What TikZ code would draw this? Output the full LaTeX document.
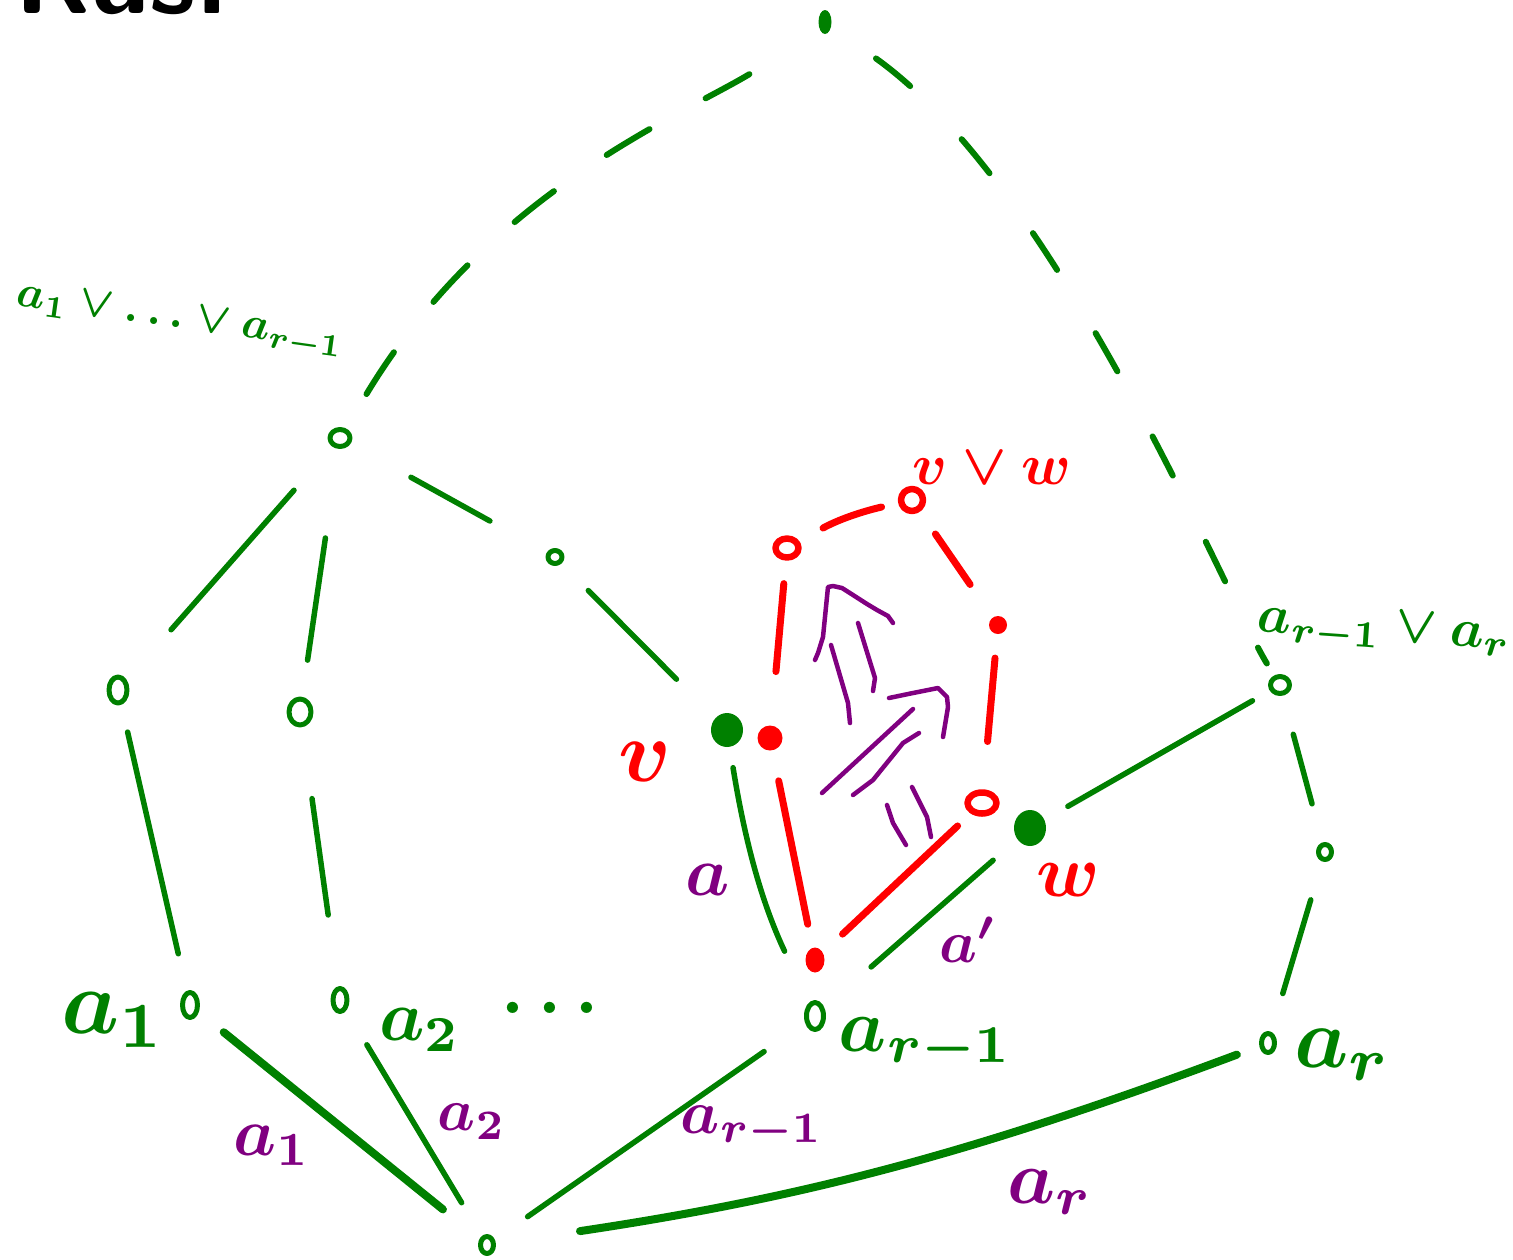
\documentclass[tikz,border=0pt]{standalone}
\usetikzlibrary{shapes.geometric}
\definecolor{hgreen}{RGB}{0,128,0}
\definecolor{hred}{RGB}{255,0,0}
\definecolor{hpurple}{RGB}{128,0,128}
\begin{document}
\begin{tikzpicture}[x=1pt,y=-1pt,line cap=round,line join=round,
  gedge/.style={hgreen,line width=5.5pt},
  gthick/.style={hgreen,line width=8pt},
  gdashA/.style={hgreen,line width=6pt,dash pattern=on 50pt off 64pt},
  gdashB/.style={hgreen,line width=6pt,dash pattern=on 44pt off 74pt},
  redge/.style={hred,line width=7pt},
  pline/.style={hpurple,line width=4.5pt},
  gopen/.style={ellipse,draw=hgreen,line width=5pt,inner sep=0pt},
  gfill/.style={ellipse,fill=hgreen,inner sep=0pt},
  ropen/.style={ellipse,draw=hred,line width=6.5pt,inner sep=0pt},
  rfill/.style={ellipse,fill=hred,inner sep=0pt},
  glab/.style={text=hgreen,inner sep=0pt,font=\boldmath},
  rlab/.style={text=hred,inner sep=0pt,font=\boldmath},
  plab/.style={text=hpurple,inner sep=0pt,font=\boldmath},
  fs/.style={scale=#1/10}
]
\useasboundingbox (0,0) rectangle (1513,1259);

% title (cut off at the top)
\node[anchor=base west,inner sep=0pt,font=\sffamily\bfseries,scale=11] (title) at (12,13) {Ras:};

% green nodes
\node[gfill,minimum width=13pt,minimum height=24pt] (top) at (825,22) {};
\node[gopen,minimum width=20pt,minimum height=17pt] (A) at (340,438) {};
\node[gopen,minimum width=18pt,minimum height=26pt] (L1) at (118,690) {};
\node[gopen,minimum width=22pt,minimum height=26pt] (L2) at (300,712) {};
\node[gopen,minimum width=14pt,minimum height=13pt] (M) at (555,557) {};
\node[gfill,minimum width=32pt,minimum height=34pt] (gv) at (727,730) {};
\node[gfill,minimum width=32pt,minimum height=36pt] (gw) at (1030,828) {};
\node[gopen,minimum width=19pt,minimum height=17pt] (R) at (1280,685) {};
\node[gopen,minimum width=13pt,minimum height=15pt] (Rm) at (1325,852) {};
\node[gopen,minimum width=15pt,minimum height=25pt] (a1n) at (190,1005) {};
\node[gopen,minimum width=14pt,minimum height=23pt] (a2n) at (340,1000) {};
\node[gopen,minimum width=17pt,minimum height=27pt] (arm) at (815,1016) {};
\node[gopen,minimum width=13pt,minimum height=19pt] (arn) at (1268,1043) {};
\node[gopen,minimum width=13pt,minimum height=17pt] (bot) at (487,1245) {};

% red nodes
\node[ropen,minimum width=23pt,minimum height=19pt] (rtl) at (787,548) {};
\node[ropen,minimum width=22pt,minimum height=22pt] (rvw) at (912,500) {};
\node[rfill,minimum width=18pt,minimum height=18pt] (rr) at (998,625) {};
\node[ropen,minimum width=29pt,minimum height=21pt] (rw) at (982,803) {};
\node[rfill,minimum width=25pt,minimum height=25pt] (rv) at (770,738) {};
\node[rfill,minimum width=19pt,minimum height=25pt] (rb) at (815,960) {};

% dashed green edges
\draw[gdashA,shorten <=40pt,shorten >=70pt] (A) .. controls +(155,-257) and +(-123,86) .. (top);
\draw[gdashB,shorten <=55pt,shorten >=14pt] (top) .. controls +(235,168) and +(-55,-90) .. (R);

% solid green edges
\draw[gedge,shorten <=58pt,shorten >=67pt] (A) -- (L1);
\draw[gedge,shorten <=90pt,shorten >=37pt] (A) -- (L2);
\draw[gedge,shorten <=69pt,shorten >=65pt] (A) -- (M);
\draw[gedge,shorten <=38pt,shorten >=55pt] (M) -- (gv);
\draw[gedge,shorten <=28pt,shorten >=38pt] (L1) -- (a1n);
\draw[gedge,shorten <=72pt,shorten >=72pt] (L2) -- (a2n);
\draw[gedge,shorten <=21pt,shorten >=57pt] (gv) to[bend right=8] (arm);
\draw[gedge,shorten <=32pt,shorten >=62pt] (gw) -- (arm);
\draw[gedge,shorten <=27pt,shorten >=20pt] (gw) -- (R);
\draw[gedge,shorten <=40pt,shorten >=40pt] (R) -- (Rm);
\draw[gedge,shorten <=40pt,shorten >=40pt] (Rm) -- (arn);
\draw[gthick,shorten <=47pt,shorten >=32pt] (bot) -- (a1n);
\draw[gedge,shorten <=39pt,shorten >=40pt] (bot) -- (a2n);
\draw[gedge,shorten <=40pt,shorten >=50pt] (bot) -- (arm);
\draw[gthick,shorten <=85pt,shorten >=24pt] (bot) to[bend right=6] (arn);

% red edges
\draw[redge,shorten <=31pt,shorten >=24pt] (rv) -- (rb);
\draw[redge,shorten <=27pt,shorten >=18pt] (rb) -- (rw);
\draw[redge,shorten <=54pt,shorten >=23pt] (rv) -- (rtl);
\draw[redge,shorten <=27pt,shorten >=17pt] (rtl) to[bend left=8] (rvw);
\draw[redge,shorten <=27pt,shorten >=40pt] (rvw) -- (rr);
\draw[redge,shorten <=24pt,shorten >=48pt] (rr) -- (rw);

% purple 2-cells
\draw[pline] (815,660) -- (818,653) -- (823,637) -- (828,587) -- (833,586) -- (842,588) -- (853,595) -- (867,604) -- (877,610) -- (888,616) -- (893,623);
\draw[pline] (831,645) -- (848,703) -- (850,723);
\draw[pline] (858,623) -- (875,678) -- (873,691);
\draw[pline] (889,698) -- (913,693) -- (938,688) -- (947,697) -- (948,707) -- (943,737);
\draw[pline] (822,793) -- (913,709);
\draw[pline] (853,795) -- (873,780) -- (903,743) -- (919,733);
\draw[pline] (887,805) -- (893,823) -- (906,845);
\draw[pline] (912,787) -- (927,817) -- (931,837);

% green labels
\node[glab,fs=45,rotate=-8] (lA) at (180,322) {$a_1\vee\ldots\vee a_{r-1}$};
\node[glab,fs=54,rotate=-4] (lR) at (1384,633) {$a_{r-1}\vee a_r$};
\node[glab,fs=92] (la1) at (114,1020) {$a_1$};
\node[glab,fs=72] (la2) at (420,1030) {$a_2$};
\node[glab,fs=72] (ldots) at (550,1008) {$\ldots$};
\node[glab,fs=76] (larm) at (926,1045) {$a_{r-1}$};
\node[glab,fs=86] (larn) at (1343,1055) {$a_r$};

% red labels
\node[rlab,fs=58] (lvw) at (992,468) {$v\vee w$};
\node[rlab,fs=88] (lv) at (645,762) {$v$};
\node[rlab,fs=74] (lw) at (1068,880) {$w$};

% purple labels
\node[plab,fs=70] (pa) at (708,880) {$a$};
\node[plab,fs=60] (pa2) at (968,940) {$a'$};
\node[plab,fs=68] (p1) at (272,1145) {$a_1$};
\node[plab,fs=60] (p2) at (472,1122) {$a_2$};
\node[plab,fs=62] (prm) at (752,1128) {$a_{r-1}$};
\node[plab,fs=76] (prn) at (1050,1192) {$a_r$};
\end{tikzpicture}
\end{document}
